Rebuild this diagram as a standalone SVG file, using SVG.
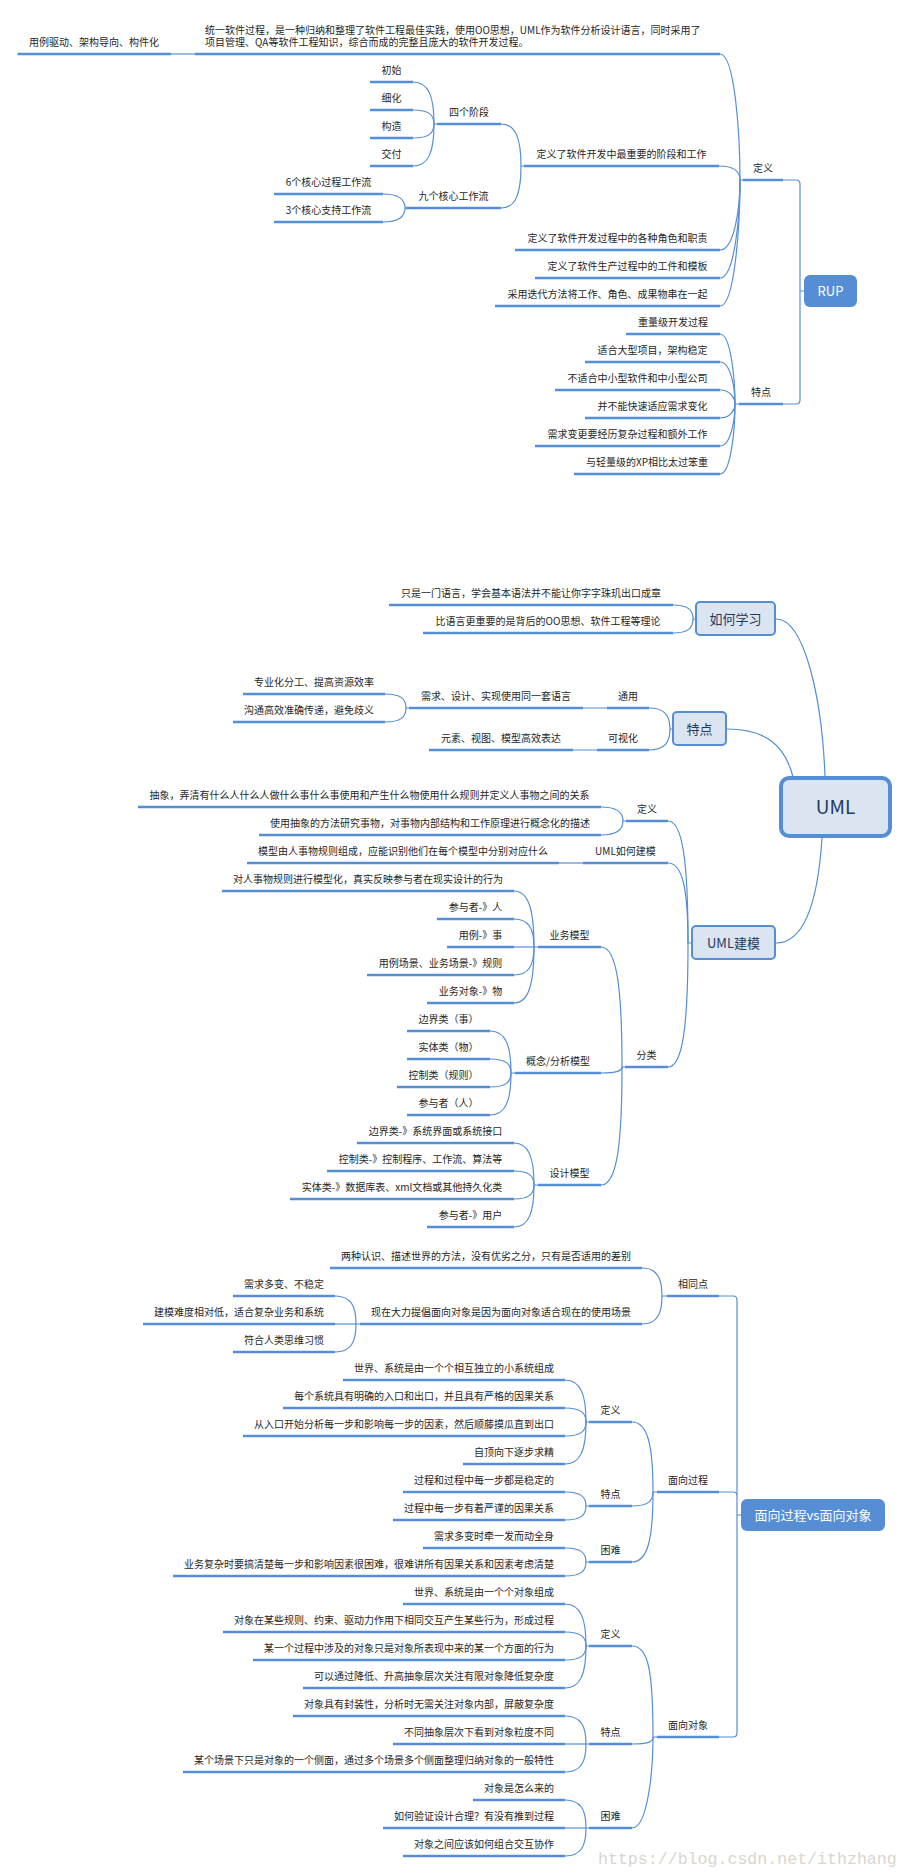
<svg xmlns="http://www.w3.org/2000/svg" width="909" height="1873" viewBox="0 0 909 1873">
<style>
.u{stroke:#558ed5;stroke-width:2.6}
.c{fill:none;stroke:#558ed5;stroke-width:1.2}
.t{font-family:"Noto Sans CJK SC","Liberation Sans",sans-serif;font-size:10px;fill:#262626;text-anchor:middle}
.tl{font-family:"Noto Sans CJK SC","Liberation Sans",sans-serif;font-size:10px;fill:#262626}
.bx{fill:#dbe5f1;stroke:#558ed5;stroke-width:2}
.bt{font-family:"Noto Sans CJK SC","Liberation Sans",sans-serif;font-size:13px;fill:#1f3a60;text-anchor:middle}
.rt{font-family:"Noto Sans CJK SC","Liberation Sans",sans-serif;font-size:13px;fill:#ffffff;text-anchor:middle}
.wm{font-family:"Liberation Mono",monospace;font-size:16.6px;fill:#d9d5cf}
</style>
<rect width="909" height="1873" fill="#ffffff"/>

<g id="connectors">
<!-- RUP -->
<path class="c" d="M783,180 H796 Q800,180 800,184 V400 Q800,404 796,404 H783 M800,291 H804"/>
<path class="c" d="M720,54 C735,54 740,136 740,180 H743"/>
<path class="c" d="M719,166 C734,166 740,171 740,180"/>
<path class="c" d="M720,250 C735,250 740,205 740,180"/>
<path class="c" d="M720,278 C735,278 740,214 740,180"/>
<path class="c" d="M720,306 C735,306 740,224 740,180"/>
<path class="c" d="M501,124 C516,124 521,139 521,166 H524"/>
<path class="c" d="M501,208 C516,208 521,193 521,166"/>
<path class="c" d="M413,82 C429,82 434,97 434,124 H437"/>
<path class="c" d="M413,110 C429,110 434,115 434,124"/>
<path class="c" d="M413,138 C429,138 434,133 434,124"/>
<path class="c" d="M413,166 C429,166 434,151 434,124"/>
<path class="c" d="M383,194 C399,194 405,199 405,208 H406"/>
<path class="c" d="M383,222 C399,222 405,217 405,208"/>
<path class="c" d="M720,334 C731,334 735,380 735,404 H739"/>
<path class="c" d="M720,362 C731,362 735,389 735,404"/>
<path class="c" d="M720,390 C731,390 735,399 735,404"/>
<path class="c" d="M720,418 C731,418 735,409 735,404"/>
<path class="c" d="M720,446 C731,446 735,419 735,404"/>
<path class="c" d="M720,474 C731,474 735,429 735,404"/>
<path class="c" d="M171,54 H195"/>
<!-- UML root -->
<path class="c" d="M776,619 C805,619 822,700 825,776"/>
<path class="c" d="M727,729 C765,729 785,745 793,777"/>
<path class="c" d="M822,838 C818,900 805,943 776,943"/>
<path class="c" d="M673,605 C688,605 693,610 693,619 H696"/>
<path class="c" d="M673,633 C688,633 693,628 693,619"/>
<path class="c" d="M649,708 C665,708 670,716 670,729 H673"/>
<path class="c" d="M649,750 C665,750 670,742 670,729"/>
<path class="c" d="M583,708 H607 M573,750 H597"/>
<path class="c" d="M385,694 C401,694 406,699 406,708 H409"/>
<path class="c" d="M385,722 C401,722 406,717 406,708"/>
<path class="c" d="M668,821 C683,821 688,864 688,943 H692"/>
<path class="c" d="M668,863 C683,863 688,891 688,943"/>
<path class="c" d="M668,1067 C683,1067 688,1024 688,943"/>
<path class="c" d="M601,807 C617,807 623,812 623,821 H626"/>
<path class="c" d="M601,835 C617,835 623,830 623,821"/>
<path class="c" d="M559,863 H583"/>
<path class="c" d="M601,947 C617,947 622,989 622,1067 H625"/>
<path class="c" d="M601,1073 C617,1073 622,1071 622,1067"/>
<path class="c" d="M601,1185 C617,1185 622,1144 622,1067"/>
<path class="c" d="M514,891 C529,891 534,911 534,947 H538"/>
<path class="c" d="M514,919 C529,919 534,929 534,947"/>
<path class="c" d="M514,947 H534"/>
<path class="c" d="M514,975 C529,975 534,965 534,947"/>
<path class="c" d="M514,1003 C529,1003 534,983 534,947"/>
<path class="c" d="M490,1031 C506,1031 511,1046 511,1073 H515"/>
<path class="c" d="M490,1059 C506,1059 511,1064 511,1073"/>
<path class="c" d="M490,1087 C506,1087 511,1082 511,1073"/>
<path class="c" d="M490,1115 C506,1115 511,1100 511,1073"/>
<path class="c" d="M514,1143 C529,1143 534,1158 534,1185 H538"/>
<path class="c" d="M514,1171 C529,1171 534,1176 534,1185"/>
<path class="c" d="M514,1199 C529,1199 534,1194 534,1185"/>
<path class="c" d="M514,1227 C529,1227 534,1212 534,1185"/>
<!-- vs -->
<path class="c" d="M719,1296 H733 Q737,1296 737,1300 V1733 Q737,1737 733,1737 H719 M719,1492 H733 Q737,1492 737,1496 M737,1515 H741"/>
<path class="c" d="M642,1268 C657,1268 662,1278 662,1296 H667"/>
<path class="c" d="M642,1324 C657,1324 662,1314 662,1296"/>
<path class="c" d="M335,1296 C351,1296 356,1306 356,1324 H360"/>
<path class="c" d="M335,1324 H356"/>
<path class="c" d="M335,1352 C351,1352 356,1342 356,1324"/>
<path class="c" d="M632,1422 C648,1422 653,1446 653,1492 H657"/>
<path class="c" d="M632,1506 C648,1506 653,1501 653,1492"/>
<path class="c" d="M632,1562 C648,1562 653,1538 653,1492"/>
<path class="c" d="M565,1380 C581,1380 586,1395 586,1422 H589"/>
<path class="c" d="M565,1408 C581,1408 586,1413 586,1422"/>
<path class="c" d="M565,1436 C581,1436 586,1431 586,1422"/>
<path class="c" d="M565,1464 C581,1464 586,1449 586,1422"/>
<path class="c" d="M565,1492 C581,1492 586,1497 586,1506 H589"/>
<path class="c" d="M565,1520 C581,1520 586,1515 586,1506"/>
<path class="c" d="M565,1548 C581,1548 586,1553 586,1562 H589"/>
<path class="c" d="M565,1576 C581,1576 586,1571 586,1562"/>
<path class="c" d="M632,1646 C648,1646 653,1669 653,1737 H657"/>
<path class="c" d="M632,1744 C648,1744 653,1742 653,1737"/>
<path class="c" d="M632,1828 C648,1828 653,1769 653,1737"/>
<path class="c" d="M565,1604 C581,1604 586,1619 586,1646 H589"/>
<path class="c" d="M565,1632 C581,1632 586,1637 586,1646"/>
<path class="c" d="M565,1660 C581,1660 586,1655 586,1646"/>
<path class="c" d="M565,1688 C581,1688 586,1673 586,1646"/>
<path class="c" d="M565,1716 C581,1716 586,1726 586,1744 H589"/>
<path class="c" d="M565,1744 H586"/>
<path class="c" d="M565,1772 C581,1772 586,1762 586,1744"/>
<path class="c" d="M565,1800 C581,1800 586,1810 586,1828 H589"/>
<path class="c" d="M565,1828 H586"/>
<path class="c" d="M565,1856 C581,1856 586,1846 586,1828"/>
</g>

<!-- ===== RUP ===== -->
<g id="n-rup"><rect x="804" y="275" width="53" height="32" rx="6" fill="#558ed5"/><text class="rt" x="830.5" y="295.5">RUP</text></g>
<g id="n-rup-def"><line class="u" x1="743" y1="180" x2="783" y2="180"/><text class="t" x="763" y="172">定义</text></g>
<g id="n-rup-feat"><line class="u" x1="739" y1="404" x2="783" y2="404"/><text class="t" x="761" y="396">特点</text></g>
<g id="n-rup-long"><line class="u" x1="195" y1="54" x2="720" y2="54"/><text class="tl" x="205" y="33.5">统一软件过程，是一种归纳和整理了软件工程最佳实践，使用OO思想，UML作为软件分析设计语言，同时采用了</text><text class="tl" x="205" y="46">项目管理、QA等软件工程知识，综合而成的完整且庞大的软件开发过程。</text></g>
<g id="n-rup-usecase"><line class="u" x1="17.5" y1="54" x2="171" y2="54"/><text class="t" x="94" y="46">用例驱动、架构导向、构件化</text></g>
<g id="n-rup-stages"><line class="u" x1="524" y1="166" x2="719" y2="166"/><text class="t" x="621.5" y="158">定义了软件开发中最重要的阶段和工作</text></g>
<g id="n-four"><line class="u" x1="437" y1="124" x2="501" y2="124"/><text class="t" x="469" y="116">四个阶段</text></g>
<g id="n-s1"><line class="u" x1="370" y1="82" x2="413" y2="82"/><text class="t" x="391.5" y="74">初始</text></g>
<g id="n-s2"><line class="u" x1="370" y1="110" x2="413" y2="110"/><text class="t" x="391.5" y="102">细化</text></g>
<g id="n-s3"><line class="u" x1="370" y1="138" x2="413" y2="138"/><text class="t" x="391.5" y="130">构造</text></g>
<g id="n-s4"><line class="u" x1="370" y1="166" x2="413" y2="166"/><text class="t" x="391.5" y="158">交付</text></g>
<g id="n-nine"><line class="u" x1="406" y1="208" x2="501" y2="208"/><text class="t" x="453.5" y="200">九个核心工作流</text></g>
<g id="n-w1"><line class="u" x1="274" y1="194" x2="383" y2="194"/><text class="t" x="328.5" y="186">6个核心过程工作流</text></g>
<g id="n-w2"><line class="u" x1="274" y1="222" x2="383" y2="222"/><text class="t" x="328.5" y="214">3个核心支持工作流</text></g>
<g id="n-roles"><line class="u" x1="515" y1="250" x2="720" y2="250"/><text class="t" x="617.5" y="242">定义了软件开发过程中的各种角色和职责</text></g>
<g id="n-artifacts"><line class="u" x1="535" y1="278" x2="720" y2="278"/><text class="t" x="627.5" y="270">定义了软件生产过程中的工件和模板</text></g>
<g id="n-iter"><line class="u" x1="495" y1="306" x2="720" y2="306"/><text class="t" x="607.5" y="298">采用迭代方法将工作、角色、成果物串在一起</text></g>
<g id="n-f1"><line class="u" x1="626" y1="334" x2="720" y2="334"/><text class="t" x="673" y="326">重量级开发过程</text></g>
<g id="n-f2"><line class="u" x1="585" y1="362" x2="720" y2="362"/><text class="t" x="652.5" y="354">适合大型项目，架构稳定</text></g>
<g id="n-f3"><line class="u" x1="555" y1="390" x2="720" y2="390"/><text class="t" x="637.5" y="382">不适合中小型软件和中小型公司</text></g>
<g id="n-f4"><line class="u" x1="585" y1="418" x2="720" y2="418"/><text class="t" x="652.5" y="410">并不能快速适应需求变化</text></g>
<g id="n-f5"><line class="u" x1="535" y1="446" x2="720" y2="446"/><text class="t" x="627.5" y="438">需求变更要经历复杂过程和额外工作</text></g>
<g id="n-f6"><line class="u" x1="574" y1="474" x2="720" y2="474"/><text class="t" x="647" y="466">与轻量级的XP相比太过笨重</text></g>

<!-- ===== UML ===== -->
<g id="n-uml"><rect x="781" y="778" width="109" height="58" rx="8" fill="#dbe5f1" stroke="#558ed5" stroke-width="4"/><text class="bt" x="835.5" y="814" style="font-size:19px">UML</text></g>
<g id="n-learn"><rect class="bx" x="696" y="602" width="79" height="33" rx="4"/><text class="bt" x="735.5" y="623.5">如何学习</text></g>
<g id="n-learn1"><line class="u" x1="389" y1="605" x2="673" y2="605"/><text class="t" x="531" y="597">只是一门语言，学会基本语法并不能让你字字珠玑出口成章</text></g>
<g id="n-learn2"><line class="u" x1="423" y1="633" x2="673" y2="633"/><text class="t" x="548" y="625">比语言更重要的是背后的OO思想、软件工程等理论</text></g>
<g id="n-umlfeat"><rect class="bx" x="673" y="712" width="53" height="33" rx="4"/><text class="bt" x="699.5" y="733.5">特点</text></g>
<g id="n-general"><line class="u" x1="607" y1="708" x2="649" y2="708"/><text class="t" x="628" y="700">通用</text></g>
<g id="n-visual"><line class="u" x1="597" y1="750" x2="649" y2="750"/><text class="t" x="623" y="742">可视化</text></g>
<g id="n-samelang"><line class="u" x1="409" y1="708" x2="583" y2="708"/><text class="t" x="496" y="700">需求、设计、实现使用同一套语言</text></g>
<g id="n-elements"><line class="u" x1="429" y1="750" x2="573" y2="750"/><text class="t" x="501" y="742">元素、视图、模型高效表达</text></g>
<g id="n-spec"><line class="u" x1="243" y1="694" x2="385" y2="694"/><text class="t" x="314" y="686">专业化分工、提高资源效率</text></g>
<g id="n-comm"><line class="u" x1="233" y1="722" x2="385" y2="722"/><text class="t" x="309" y="714">沟通高效准确传递，避免歧义</text></g>
<g id="n-modeling"><rect class="bx" x="692" y="926" width="83" height="33" rx="4"/><text class="bt" x="733.5" y="947.5">UML建模</text></g>
<g id="n-m-def"><line class="u" x1="626" y1="821" x2="668" y2="821"/><text class="t" x="647" y="813">定义</text></g>
<g id="n-m-def1"><line class="u" x1="138" y1="807" x2="601" y2="807"/><text class="t" x="369.5" y="799">抽象，弄清有什么人什么人做什么事什么事使用和产生什么物使用什么规则并定义人事物之间的关系</text></g>
<g id="n-m-def2"><line class="u" x1="259" y1="835" x2="601" y2="835"/><text class="t" x="430" y="827">使用抽象的方法研究事物，对事物内部结构和工作原理进行概念化的描述</text></g>
<g id="n-m-how"><line class="u" x1="583" y1="863" x2="668" y2="863"/><text class="t" x="625.5" y="855">UML如何建模</text></g>
<g id="n-m-how1"><line class="u" x1="247" y1="863" x2="559" y2="863"/><text class="t" x="403" y="855">模型由人事物规则组成，应能识别他们在每个模型中分别对应什么</text></g>
<g id="n-m-cls"><line class="u" x1="625" y1="1067" x2="668" y2="1067"/><text class="t" x="646.5" y="1059">分类</text></g>
<g id="n-biz"><line class="u" x1="538" y1="947" x2="601" y2="947"/><text class="t" x="569.5" y="939">业务模型</text></g>
<g id="n-biz1"><line class="u" x1="222" y1="891" x2="514" y2="891"/><text class="t" x="368" y="883">对人事物规则进行模型化，真实反映参与者在现实设计的行为</text></g>
<g id="n-biz2"><line class="u" x1="437" y1="919" x2="514" y2="919"/><text class="t" x="475.5" y="911">参与者-》人</text></g>
<g id="n-biz3"><line class="u" x1="447" y1="947" x2="514" y2="947"/><text class="t" x="480.5" y="939">用例-》事</text></g>
<g id="n-biz4"><line class="u" x1="367" y1="975" x2="514" y2="975"/><text class="t" x="440.5" y="967">用例场景、业务场景-》规则</text></g>
<g id="n-biz5"><line class="u" x1="427" y1="1003" x2="514" y2="1003"/><text class="t" x="470.5" y="995">业务对象-》物</text></g>
<g id="n-con"><line class="u" x1="515" y1="1073" x2="601" y2="1073"/><text class="t" x="558" y="1065">概念/分析模型</text></g>
<g id="n-con1"><line class="u" x1="407" y1="1031" x2="490" y2="1031"/><text class="t" x="448.5" y="1023">边界类（事）</text></g>
<g id="n-con2"><line class="u" x1="407" y1="1059" x2="490" y2="1059"/><text class="t" x="448.5" y="1051">实体类（物）</text></g>
<g id="n-con3"><line class="u" x1="397" y1="1087" x2="490" y2="1087"/><text class="t" x="443.5" y="1079">控制类（规则）</text></g>
<g id="n-con4"><line class="u" x1="407" y1="1115" x2="490" y2="1115"/><text class="t" x="448.5" y="1107">参与者（人）</text></g>
<g id="n-des"><line class="u" x1="538" y1="1185" x2="601" y2="1185"/><text class="t" x="569.5" y="1177">设计模型</text></g>
<g id="n-des1"><line class="u" x1="357" y1="1143" x2="514" y2="1143"/><text class="t" x="435.5" y="1135">边界类-》系统界面或系统接口</text></g>
<g id="n-des2"><line class="u" x1="327" y1="1171" x2="514" y2="1171"/><text class="t" x="420.5" y="1163">控制类-》控制程序、工作流、算法等</text></g>
<g id="n-des3"><line class="u" x1="290" y1="1199" x2="514" y2="1199"/><text class="t" x="402" y="1191">实体类-》数据库表、xml文档或其他持久化类</text></g>
<g id="n-des4"><line class="u" x1="427" y1="1227" x2="514" y2="1227"/><text class="t" x="470.5" y="1219">参与者-》用户</text></g>

<!-- ===== vs ===== -->
<g id="n-vs"><rect x="741" y="1499" width="144" height="32" rx="6" fill="#558ed5"/><text class="rt" x="813" y="1519.5">面向过程vs面向对象</text></g>
<g id="n-same"><line class="u" x1="667" y1="1296" x2="719" y2="1296"/><text class="t" x="693" y="1288">相同点</text></g>
<g id="n-same1"><line class="u" x1="330" y1="1268" x2="642" y2="1268"/><text class="t" x="486" y="1260">两种认识、描述世界的方法，没有优劣之分，只有是否适用的差别</text></g>
<g id="n-same2"><line class="u" x1="360" y1="1324" x2="642" y2="1324"/><text class="t" x="501" y="1316">现在大力提倡面向对象是因为面向对象适合现在的使用场景</text></g>
<g id="n-why1"><line class="u" x1="233" y1="1296" x2="335" y2="1296"/><text class="t" x="284" y="1288">需求多变、不稳定</text></g>
<g id="n-why2"><line class="u" x1="143" y1="1324" x2="335" y2="1324"/><text class="t" x="239" y="1316">建模难度相对低，适合复杂业务和系统</text></g>
<g id="n-why3"><line class="u" x1="233" y1="1352" x2="335" y2="1352"/><text class="t" x="284" y="1344">符合人类思维习惯</text></g>
<g id="n-proc"><line class="u" x1="657" y1="1492" x2="719" y2="1492"/><text class="t" x="688" y="1484">面向过程</text></g>
<g id="n-p-def"><line class="u" x1="589" y1="1422" x2="632" y2="1422"/><text class="t" x="610.5" y="1414">定义</text></g>
<g id="n-p-def1"><line class="u" x1="343" y1="1380" x2="565" y2="1380"/><text class="t" x="454" y="1372">世界、系统是由一个个相互独立的小系统组成</text></g>
<g id="n-p-def2"><line class="u" x1="283" y1="1408" x2="565" y2="1408"/><text class="t" x="424" y="1400">每个系统具有明确的入口和出口，并且具有严格的因果关系</text></g>
<g id="n-p-def3"><line class="u" x1="243" y1="1436" x2="565" y2="1436"/><text class="t" x="404" y="1428">从入口开始分析每一步和影响每一步的因素，然后顺藤摸瓜直到出口</text></g>
<g id="n-p-def4"><line class="u" x1="463" y1="1464" x2="565" y2="1464"/><text class="t" x="514" y="1456">自顶向下逐步求精</text></g>
<g id="n-p-feat"><line class="u" x1="589" y1="1506" x2="632" y2="1506"/><text class="t" x="610.5" y="1498">特点</text></g>
<g id="n-p-feat1"><line class="u" x1="403" y1="1492" x2="565" y2="1492"/><text class="t" x="484" y="1484">过程和过程中每一步都是稳定的</text></g>
<g id="n-p-feat2"><line class="u" x1="393" y1="1520" x2="565" y2="1520"/><text class="t" x="479" y="1512">过程中每一步有着严谨的因果关系</text></g>
<g id="n-p-diff"><line class="u" x1="589" y1="1562" x2="632" y2="1562"/><text class="t" x="610.5" y="1554">困难</text></g>
<g id="n-p-diff1"><line class="u" x1="423" y1="1548" x2="565" y2="1548"/><text class="t" x="494" y="1540">需求多变时牵一发而动全身</text></g>
<g id="n-p-diff2"><line class="u" x1="173" y1="1576" x2="565" y2="1576"/><text class="t" x="369" y="1568">业务复杂时要搞清楚每一步和影响因素很困难，很难讲所有因果关系和因素考虑清楚</text></g>
<g id="n-obj"><line class="u" x1="657" y1="1737" x2="719" y2="1737"/><text class="t" x="688" y="1729">面向对象</text></g>
<g id="n-o-def"><line class="u" x1="589" y1="1646" x2="632" y2="1646"/><text class="t" x="610.5" y="1638">定义</text></g>
<g id="n-o-def1"><line class="u" x1="403" y1="1604" x2="565" y2="1604"/><text class="t" x="484" y="1596">世界、系统是由一个个对象组成</text></g>
<g id="n-o-def2"><line class="u" x1="223" y1="1632" x2="565" y2="1632"/><text class="t" x="394" y="1624">对象在某些规则、约束、驱动力作用下相同交互产生某些行为，形成过程</text></g>
<g id="n-o-def3"><line class="u" x1="253" y1="1660" x2="565" y2="1660"/><text class="t" x="409" y="1652">某一个过程中涉及的对象只是对象所表现中来的某一个方面的行为</text></g>
<g id="n-o-def4"><line class="u" x1="303" y1="1688" x2="565" y2="1688"/><text class="t" x="434" y="1680">可以通过降低、升高抽象层次关注有限对象降低复杂度</text></g>
<g id="n-o-feat"><line class="u" x1="589" y1="1744" x2="632" y2="1744"/><text class="t" x="610.5" y="1736">特点</text></g>
<g id="n-o-feat1"><line class="u" x1="293" y1="1716" x2="565" y2="1716"/><text class="t" x="429" y="1708">对象具有封装性，分析时无需关注对象内部，屏蔽复杂度</text></g>
<g id="n-o-feat2"><line class="u" x1="393" y1="1744" x2="565" y2="1744"/><text class="t" x="479" y="1736">不同抽象层次下看到对象粒度不同</text></g>
<g id="n-o-feat3"><line class="u" x1="183" y1="1772" x2="565" y2="1772"/><text class="t" x="374" y="1764">某个场景下只是对象的一个侧面，通过多个场景多个侧面整理归纳对象的一般特性</text></g>
<g id="n-o-diff"><line class="u" x1="589" y1="1828" x2="632" y2="1828"/><text class="t" x="610.5" y="1820">困难</text></g>
<g id="n-o-diff1"><line class="u" x1="473" y1="1800" x2="565" y2="1800"/><text class="t" x="519" y="1792">对象是怎么来的</text></g>
<g id="n-o-diff2"><line class="u" x1="383" y1="1828" x2="565" y2="1828"/><text class="t" x="474" y="1820">如何验证设计合理？有没有推到过程</text></g>
<g id="n-o-diff3"><line class="u" x1="403" y1="1856" x2="565" y2="1856"/><text class="t" x="484" y="1848">对象之间应该如何组合交互协作</text></g>

<text class="wm" x="598" y="1864">https://blog.csdn.net/ithzhang</text>
</svg>
